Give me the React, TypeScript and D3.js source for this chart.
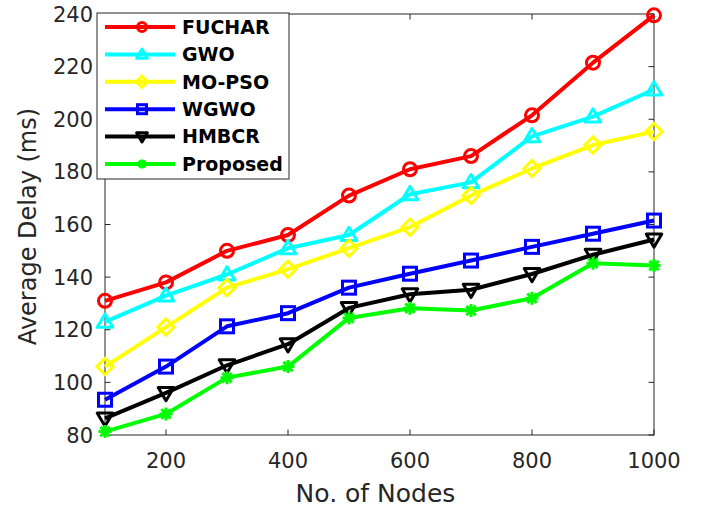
import React from 'react';
import * as d3 from 'd3';

const nodes = [100, 200, 300, 400, 500, 600, 700, 800, 900, 1000];
const fuchar = [131, 138, 150, 156, 171, 181, 186, 201.5, 221.5, 239.5];
const gwo = [123, 133, 141, 151, 156, 171.5, 176, 193.5, 201, 211.3];
const mopso = [106, 121, 136, 143, 151, 159, 171, 181.3, 190.2, 195.3];
const wgwo = [93.4, 106, 121.3, 126.3, 136, 141.3, 146.3, 151.5, 156.5, 161.5];
const hmbcr = [86.3, 96, 106.5, 114.5, 128.3, 133.5, 135.2, 141.2, 148.5, 154.3];
const proposed = [81.3, 88, 101.8, 106, 124.5, 128.2, 127.3, 132, 145.3, 144.4];

const xTicks = [200, 400, 600, 800, 1000];
const yTicks = [80, 100, 120, 140, 160, 180, 200, 220, 240];

const series = [
  { name: 'FUCHAR', values: fuchar, color: '#ff0000', marker: 'circle' },
  { name: 'GWO', values: gwo, color: '#00ffff', marker: 'triangle' },
  { name: 'MO-PSO', values: mopso, color: '#ffff00', marker: 'diamond' },
  { name: 'WGWO', values: wgwo, color: '#0000ff', marker: 'square' },
  { name: 'HMBCR', values: hmbcr, color: '#000000', marker: 'down' },
  { name: 'Proposed', values: proposed, color: '#00ff00', marker: 'star' },
];

const margin = { top: 14, right: 48, bottom: 75, left: 105 };
const W = 702;
const H = 510;
const width = W - margin.left - margin.right;
const height = H - margin.top - margin.bottom;
const axisColor = '#262626';

const Marker = ({ type, x, y, color, s, sw }: { type: string; x: number; y: number; color: string; s: number; sw: number }) => {
  if (type === 'circle') {
    return <circle cx={x} cy={y} r={s} fill="none" stroke={color} strokeWidth={sw} />;
  }
  if (type === 'square') {
    return <rect x={x - s} y={y - s} width={2 * s} height={2 * s} fill="none" stroke={color} strokeWidth={sw} />;
  }
  if (type === 'diamond') {
    const r = s * 1.25;
    return <path d={`M${x},${y - r}L${x + r},${y}L${x},${y + r}L${x - r},${y}Z`} fill="none" stroke={color} strokeWidth={sw} />;
  }
  if (type === 'triangle') {
    const r = s * 1.2;
    return <path d={`M${x},${y - r}L${x + r},${y + r * 0.7}L${x - r},${y + r * 0.7}Z`} fill="none" stroke={color} strokeWidth={sw} strokeLinejoin="round" />;
  }
  if (type === 'down') {
    const r = s * 1.2;
    return <path d={`M${x},${y + r}L${x + r},${y - r * 0.7}L${x - r},${y - r * 0.7}Z`} fill="none" stroke={color} strokeWidth={sw} strokeLinejoin="round" />;
  }
  // asterisk
  const r = s;
  const d = r * 0.72;
  return (
    <path
      d={`M${x - r},${y}L${x + r},${y}M${x},${y - r}L${x},${y + r}M${x - d},${y - d}L${x + d},${y + d}M${x - d},${y + d}L${x + d},${y - d}`}
      stroke={color}
      strokeWidth={sw}
    />
  );
};

const App = () => {
  const x = d3.scaleLinear().domain([100, 1000]).range([0, width]);
  const y = d3.scaleLinear().domain([80, 240]).range([height, 0]);
  const line = d3.line<number>()
    .x((d, i) => x(nodes[i]))
    .y((d) => y(d));

  const font = 'DejaVu Sans, sans-serif';

  return (
    <svg width={W} height={H} style={{ position: 'absolute', left: 0, top: 0, background: '#fff' }}>
      <g transform={`translate(${margin.left},${margin.top})`}>
        {/* box and ticks */}
        <rect x={0} y={0} width={width} height={height} fill="none" stroke={axisColor} strokeWidth={1} />
        {xTicks.map((t) => (
          <g key={'x' + t}>
            <line x1={x(t)} x2={x(t)} y1={height} y2={height - 5.5} stroke={axisColor} />
            <line x1={x(t)} x2={x(t)} y1={0} y2={5.5} stroke={axisColor} />
            <text x={x(t)} y={height + 33} textAnchor="middle" fontFamily={font} fontSize={21} fill={axisColor}>{t}</text>
          </g>
        ))}
        {yTicks.map((t) => (
          <g key={'y' + t}>
            <line x1={0} x2={5.5} y1={y(t)} y2={y(t)} stroke={axisColor} />
            <line x1={width} x2={width - 5.5} y1={y(t)} y2={y(t)} stroke={axisColor} />
            <text x={-12} y={y(t)} dy="0.36em" textAnchor="end" fontFamily={font} fontSize={21} fill={axisColor}>{t}</text>
          </g>
        ))}
        <text x={x(550) - 4} y={height + 67} textAnchor="middle" fontFamily={font} fontSize={25} fill={axisColor}>No. of Nodes</text>
        <text transform={`translate(${-69},${y(160) + 2}) rotate(-90)`} textAnchor="middle" fontFamily={font} fontSize={24} fill={axisColor}>Average Delay (ms)</text>

        {/* series */}
        {series.map((s) => (
          <g key={s.name}>
            <path d={line(s.values) || ''} fill="none" stroke={s.color} strokeWidth={4} strokeLinejoin="round" />
            {s.values.map((v, i) => (
              <Marker key={i} type={s.marker} x={x(nodes[i])} y={y(v)} color={s.color} s={6.5} sw={3} />
            ))}
          </g>
        ))}
      </g>

      {/* legend */}
      <g transform="translate(97,13)">
        <rect x={0} y={0} width={192} height={166} fill="#fff" stroke={axisColor} strokeWidth={1} />
        {series.map((s, i) => {
          const ly = 14 + i * 27.4;
          return (
            <g key={s.name}>
              <line x1={8} x2={78} y1={ly} y2={ly} stroke={s.color} strokeWidth={4} />
              <Marker type={s.marker} x={45} y={ly} color={s.color} s={4.5} sw={3} />
              <text x={85} y={ly} dy="0.36em" fontFamily={font} fontSize={19} fontWeight="bold" fill="#000">{s.name}</text>
            </g>
          );
        })}
      </g>
    </svg>
  );
};

export default App;
